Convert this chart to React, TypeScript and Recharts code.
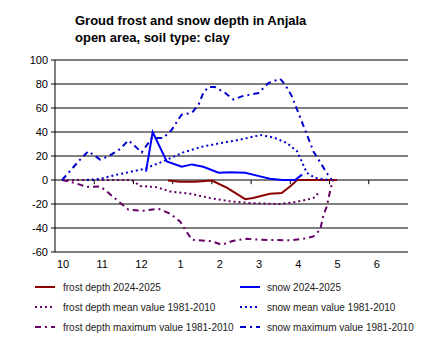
import { LineChart, Line, XAxis, YAxis, CartesianGrid, ReferenceLine } from "recharts";

// x = months since 1 October, y = cm (snow up, frost down)
const monthTicks = [0, 1, 2, 3, 4, 5, 6, 7, 8];
const monthLabels = ["10", "11", "12", "1", "2", "3", "4", "5", "6"];
const yTicks = [-60, -40, -20, 0, 20, 40, 60, 80, 100];

const frostNowX = [2.88, 3.19, 3.57, 4.0, 4.39, 4.85, 5.05, 5.48, 5.78, 6.0, 6.17, 7.19];
const frostNowY = [-0.5, -1.5, -1.5, -0.5, -6.5, -16, -15, -11.5, -10.8, -5.3, 0, 0];

const frostMeanX = [0.18, 1.96, 2.17, 2.59, 2.93, 3.44, 3.95, 4.46, 4.97, 5.48, 5.74, 6.08, 6.42, 6.59, 6.76];
const frostMeanY = [0, 0, -5, -6, -9.5, -11.4, -15, -17.8, -19.2, -19.8, -20, -18.6, -16.4, -15, -9.5];

const frostMaxX = [0.18, 0.51, 0.81, 1.15, 1.32, 1.66, 1.87, 2.25, 2.64, 2.93, 3.19, 3.32, 3.49, 4.0, 4.25, 4.55, 4.89, 5.23, 5.99, 6.33, 6.59, 6.76, 6.84, 6.93, 7.03, 7.09];
const frostMaxY = [0, -2.5, -5.8, -5.3, -9.5, -19, -24.7, -25.6, -24, -28, -34.5, -41.4, -49.8, -51, -54, -50.6, -49, -49.8, -50.3, -49, -47, -41.4, -30, -22, -6.7, 0];

const snowNowX = [2.32, 2.49, 2.85, 3.23, 3.49, 3.78, 4.17, 4.46, 4.85, 5.23, 5.48, 5.79, 6.12, 6.3];
const snowNowY = [7, 40, 15.5, 11, 13, 11, 6, 6.5, 6, 3, 1, 0, 0, 4.5];

const snowMeanX = [0.81, 1.15, 1.57, 2.25, 2.68, 2.93, 3.27, 3.78, 4.38, 4.72, 5.23, 5.57, 5.91, 6.17, 6.29, 6.42, 6.63, 6.97];
const snowMeanY = [0, 1, 4.4, 9, 14.5, 18, 23, 28, 31.7, 33.6, 37.5, 35.5, 30.8, 24, 15.5, 6, 1.7, 0];

const snowMaxX = [0.18, 0.64, 0.85, 1.15, 1.36, 1.66, 1.87, 2.0, 2.21, 2.47, 2.76, 2.98, 3.17, 3.23, 3.49, 3.66, 3.78, 3.91, 4.08, 4.34, 4.55, 4.76, 5.19, 5.44, 5.74, 5.87, 6.04, 6.29, 6.59, 6.93, 7.06];
const snowMaxY = [0, 17, 24, 17, 19.7, 25.8, 33, 29.4, 23, 35, 35, 42, 51.7, 54.4, 56, 62.7, 72.5, 77.5, 77.5, 72.5, 67, 69.7, 72.5, 80.8, 84.4, 79.4, 69.7, 48.8, 23.8, 5.8, 0];

const zip = (xs: number[], ys: number[]) => xs.map((x, i) => ({ x, y: ys[i] }));

const series = [
  { name: "frost depth 2024-2025", data: zip(frostNowX, frostNowY), color: "#8b0000", dash: undefined },
  { name: "snow 2024-2025", data: zip(snowNowX, snowNowY), color: "#0000ff", dash: undefined },
  { name: "frost depth mean value 1981-2010", data: zip(frostMeanX, frostMeanY), color: "#660066", dash: "2 3" },
  { name: "snow mean value 1981-2010", data: zip(snowMeanX, snowMeanY), color: "#0000cc", dash: "2 3" },
  { name: "frost depth maximum value 1981-2010", data: zip(frostMaxX, frostMaxY), color: "#660066", dash: "6 4 2 4" },
  { name: "snow maximum value 1981-2010", data: zip(snowMaxX, snowMaxY), color: "#0000cc", dash: "6 4 2 4" },
];

const font = "'Liberation Sans', Arial, sans-serif";

const MonthTick = ({ x, y, payload }: any) => (
  <text x={x + 8} y={y} dy="0.71em" textAnchor="middle" fontSize={11} fontFamily={font} fill="#000">
    {monthLabels[payload.value]}
  </text>
);

export default function App() {
  return (
    <div style={{ position: "absolute", left: 0, top: 0, width: 430, height: 352, background: "#fff", fontFamily: font }}>
      <div style={{ position: "absolute", left: 75, top: 12, fontSize: 13, fontWeight: "bold", lineHeight: "17px", color: "#000" }}>
        Groud frost and snow depth in Anjala
        <br />
        open area, soil type: clay
      </div>
      <LineChart width={430} height={352} data={series[0].data} margin={{ top: 60, right: 22, bottom: 80, left: 8 }}>
        <CartesianGrid vertical={false} stroke="#000" />
        <XAxis
          type="number"
          dataKey="x"
          domain={[0, 9]}
          ticks={monthTicks}
          axisLine={false}
          tickLine={false}
          height={20}
          tick={<MonthTick />}
          allowDataOverflow
        />
        <YAxis
          type="number"
          domain={[-60, 100]}
          ticks={yTicks}
          width={47}
          tickSize={4}
          tickMargin={3}
          axisLine={{ stroke: "#000" }}
          tickLine={{ stroke: "#000" }}
          tick={{ fontSize: 11, fontFamily: font, fill: "#000" }}
        />
        {monthTicks.slice(1).map((k) => (
          <ReferenceLine key={k} segment={[{ x: k, y: 0 }, { x: k, y: -3.5 }]} stroke="#000" />
        ))}
        {series.map((s) => (
          <Line
            key={s.name}
            data={s.data}
            dataKey="y"
            type="linear"
            stroke={s.color}
            strokeWidth={2}
            strokeDasharray={s.dash}
            dot={false}
            isAnimationActive={false}
          />
        ))}
      </LineChart>
      {series.map((s, i) => {
        const col = i % 2;
        const row = Math.floor(i / 2);
        return (
          <div
            key={s.name}
            style={{ position: "absolute", left: col ? 240 : 35, top: 281 + row * 20, display: "flex", alignItems: "center", fontSize: 10, color: "#222", whiteSpace: "nowrap" }}
          >
            <svg width={22} height={12} style={{ marginRight: col ? 5 : 6 }}>
              <line x1={0} y1={6} x2={20} y2={6} stroke={s.color} strokeWidth={2} strokeDasharray={s.dash} />
            </svg>
            {s.name}
          </div>
        );
      })}
    </div>
  );
}
